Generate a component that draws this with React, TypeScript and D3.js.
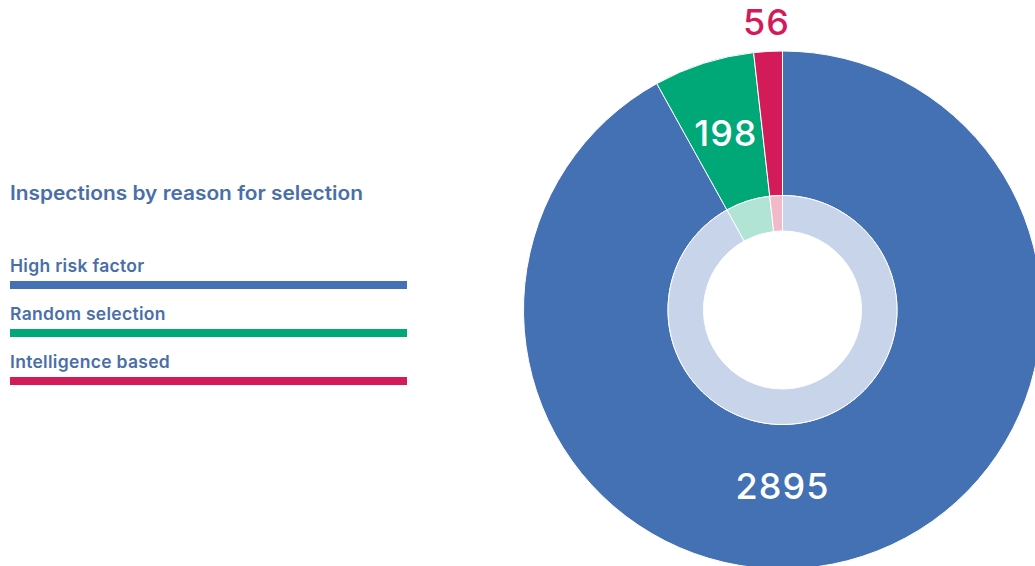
import React, { useEffect, useRef } from 'react';
import * as d3 from 'd3';

// chart data
const categories = ['High risk factor', 'Random selection', 'Intelligence based'];
const values = [2895, 198, 56];
const colors = ['#4470b4', '#00a878', '#d41b5a'];
const paleColors = ['#c8d4ea', '#b2e4d5', '#f2b9cb'];
const title = 'Inspections by reason for selection';

export default function App() {
    const ref = useRef<SVGSVGElement>(null);

    useEffect(() => {
        const svgWidth = 1035, svgHeight = 566;
        const svg = d3.select(ref.current)
            .attr('width', svgWidth)
            .attr('height', svgHeight);
        svg.selectAll('*').remove();

        const font = 'Inter, "Open Sans", sans-serif';

        // legend on the left
        const legend = svg.append('g');
        legend.append('text')
            .attr('x', 10)
            .attr('y', 200)
            .attr('fill', '#4a6fa8')
            .attr('font-family', font)
            .attr('font-weight', 600)
            .attr('font-size', 19.5)
            .attr('textLength', 353)
            .attr('lengthAdjust', 'spacingAndGlyphs')
            .text(title);

        const rowY = d3.scaleLinear().domain([0, 1]).range([272, 320]);
        const item = legend.selectAll('g.item')
            .data(categories)
            .enter()
                .append('g')
                .attr('class', 'item')
                .attr('transform', (d, i) => 'translate(10,' + rowY(i) + ')');
        item.append('text')
            .attr('fill', '#4a6fa8')
            .attr('font-family', font)
            .attr('font-weight', 600)
            .attr('font-size', 17.5)
            .attr('letter-spacing', 0.3)
            .text(d => d);
        item.append('rect')
            .attr('y', 9)
            .attr('width', 397)
            .attr('height', 8)
            .attr('fill', (d, i) => colors[i]);

        // donut
        const cx = 782.5, cy = 310;
        const outerR = 259, midR = 114.5, innerR = 79;

        const data = values.map((v, i) => ({ name: categories[i], value: v, i }));
        const pie = d3.pie<any>().sort(null).value(d => d.value);
        const arcs = pie(data);

        const graph = svg.append('g')
            .attr('transform', 'translate(' + cx + ',' + cy + ')');

        const outerArc = d3.arc<any>().innerRadius(midR).outerRadius(outerR);
        const innerArc = d3.arc<any>().innerRadius(innerR).outerRadius(midR);

        graph.append('g')
            .selectAll('path')
            .data(arcs)
            .enter()
                .append('path')
                .attr('d', outerArc)
                .attr('fill', d => colors[d.data.i])
                .attr('stroke', '#fff')
                .attr('stroke-width', 1);

        graph.append('g')
            .selectAll('path')
            .data(arcs)
            .enter()
                .append('path')
                .attr('d', innerArc)
                .attr('fill', d => paleColors[d.data.i])
                .attr('stroke', '#fff')
                .attr('stroke-width', 1);

        // value labels
        function labelPos(d: any) {
            let angle = (d.startAngle + d.endAngle) / 2;
            let r = 186;
            if (d.data.i === 0) { angle = Math.PI; r = 176.5; }
            if (d.endAngle - d.startAngle < 0.2) r = 288;
            return [r * Math.sin(angle), -r * Math.cos(angle)];
        }

        graph.append('g')
            .selectAll('text')
            .data(arcs)
            .enter()
                .append('text')
                .attr('x', d => labelPos(d)[0])
                .attr('y', d => labelPos(d)[1])
                .attr('dy', '0.36em')
                .attr('text-anchor', 'middle')
                .attr('font-family', font)
                .attr('font-weight', 500)
                .attr('font-size', 36)
                .attr('letter-spacing', 1)
                .attr('fill', d => (d.endAngle - d.startAngle < 0.2 ? colors[d.data.i] : '#fff'))
                .text(d => d.data.value);
    }, []);

    return (
        <svg ref={ref} style={{ position: 'absolute', left: 0, top: 0, display: 'block' }}></svg>
    );
}
